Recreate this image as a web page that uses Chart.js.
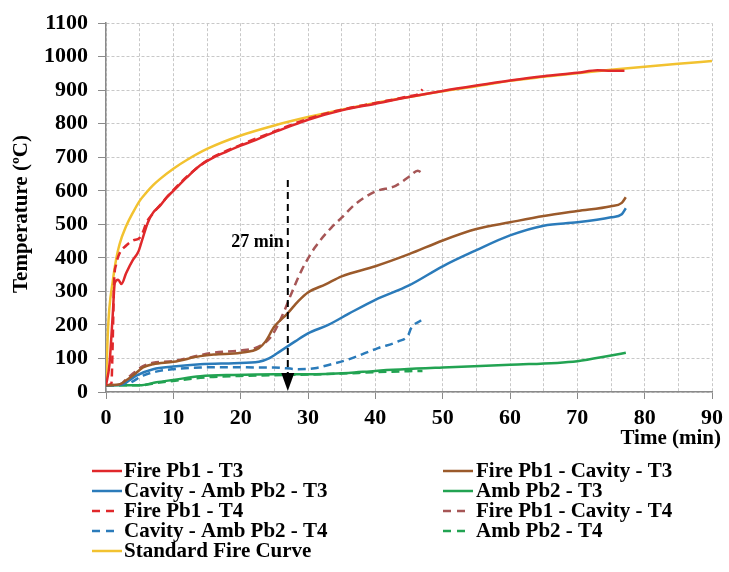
<!DOCTYPE html>
<html>
<head>
<meta charset="utf-8">
<script src="https://cdn.jsdelivr.net/npm/chart.js@4"></script>
<style>
  html, body { margin: 0; padding: 0; background: #fff; }
  canvas { display: block; }
</style>
</head>
<body>
<canvas id="c" width="729" height="572"></canvas>
<script>
// ---- Data (time in min, temperature in °C) ----
const fireT3_t = [0, 0.5, 1, 1.3, 1.8, 2.3, 3, 4, 4.8, 5.5, 6.2, 7, 8, 9, 10, 12, 14, 16, 18, 20, 22, 25, 27, 30, 35, 40, 45, 50, 55, 60, 65, 70, 73, 75, 77];
const fireT3_v = [20, 80, 230, 325, 335, 322, 355, 394, 418, 462, 505, 535, 555, 580, 600, 640, 676, 700, 718, 735, 750, 775, 790, 812, 840, 860, 880, 898, 914, 929, 942, 952, 960, 958, 958];

const cavT3_t = [0, 2.2, 3, 4, 5.5, 7, 10, 14, 16, 20, 22.7, 23.7, 25, 26.9, 28.6, 30, 32.6, 35, 40, 45, 50, 55, 60, 65, 70, 75, 76.6, 77.2];
const cavT3_v = [20, 24, 35, 49, 73, 83, 90, 107, 112, 117, 131, 151, 195, 233, 272, 297, 321, 345, 375, 411, 452, 486, 506, 525, 540, 554, 564, 581];

const cavAmbT3_t = [0, 2.4, 3.5, 4.5, 7, 10, 14, 19, 22.7, 24.2, 25.9, 28.1, 30, 33, 36, 40, 45, 50, 55, 60, 65, 70, 75, 76.6, 77.2];
const cavAmbT3_v = [20, 22, 35, 49, 68, 76, 83, 86, 90, 100, 122, 151, 175, 200, 233, 275, 318, 375, 423, 467, 496, 506, 521, 530, 548];

const ambT3_t = [0, 5, 7.5, 10, 14, 19, 25, 30, 36, 40, 50, 60, 70, 75, 77.2];
const ambT3_v = [20, 20, 29, 36, 47, 51, 53, 53, 57, 63, 73, 81, 92, 109, 117];

const fireT4_t = [0, 0.8, 1.0, 1.2, 1.5, 2, 3, 4, 5, 5.5, 6, 7, 8, 10, 12, 15, 20, 25, 30, 35, 40, 45, 46.5, 47];
const fireT4_v = [20, 25, 150, 330, 380, 413, 437, 452, 460, 478, 505, 533, 557, 602, 642, 690, 737, 777, 815, 842, 862, 882, 890, 903];

const cavT4_t = [0, 2.2, 3, 4, 5.5, 7, 10, 14, 16, 20, 22, 23.5, 24.7, 26.2, 27.6, 29.1, 31.1, 33.5, 35, 37, 40, 43, 45, 46.3, 47];
const cavT4_v = [20, 24, 38, 55, 77, 87, 92, 110, 117, 124, 130, 145, 170, 229, 297, 365, 433, 491, 520, 560, 598, 615, 642, 660, 652];

const cavAmbT4_t = [0, 3, 4, 5.5, 8, 10, 14, 19, 22.7, 25, 28.6, 31, 33.5, 36, 40.4, 43.4, 44.9, 45.3, 46.8];
const cavAmbT4_v = [20, 22, 32, 49, 63, 68, 73, 74, 73, 73, 68, 71, 83, 97, 131, 151, 170, 190, 214];

const ambT4_t = [0, 5, 7.5, 10, 15, 20, 25, 30, 35, 40, 45, 47];
const ambT4_v = [20, 20, 27, 33, 44, 48, 50, 52, 55, 59, 62, 63];

const std_t = [0, 0.25, 0.5, 1, 1.5, 2, 3, 4, 5, 6, 7, 8, 10, 12, 15, 20, 25, 30, 35, 40, 45, 50, 55, 60, 65, 70, 75, 80, 85, 90];
const std_v = [20, 165, 250, 330, 395, 440, 495, 535, 570, 595, 617, 635, 666, 692, 725, 765, 795, 820, 842, 862, 880, 897, 912, 928, 940, 951, 961, 970, 979, 987];

const seriesLabels = [
  'Fire Pb1 - T3', 'Fire Pb1 - Cavity - T3',
  'Cavity - Amb Pb2 - T3', 'Amb Pb2 - T3',
  'Fire Pb1 - T4', 'Fire Pb1 - Cavity - T4',
  'Cavity - Amb Pb2 - T4', 'Amb Pb2 - T4',
  'Standard Fire Curve'
];
const xTicks = [0, 10, 20, 30, 40, 50, 60, 70, 80, 90];
const yTicks = [0, 100, 200, 300, 400, 500, 600, 700, 800, 900, 1000, 1100];
const markerTime = 27;
const markerTop = 632;
const markerLabel = '27 min';

// ---- Build datasets ----
const pts = (ts, vs) => ts.map((t, i) => ({ x: t, y: vs[i] }));
const COLORS = {
  red: '#e0282b', brown: '#9b5a2b', blue: '#2b7bba', green: '#22a352',
  brownDash: '#a65656', yellow: '#f2c230'
};
const DASH = [8, 5];
const ds = (label, data, color, dashed) => ({
  label, data, borderColor: color, backgroundColor: color,
  borderWidth: 2.5, borderDash: dashed ? DASH : [],
  pointRadius: 0, cubicInterpolationMode: 'monotone', fill: false
});

const datasets = [
  ds(seriesLabels[0], pts(fireT3_t, fireT3_v), COLORS.red, false),
  ds(seriesLabels[1], pts(cavT3_t, cavT3_v), COLORS.brown, false),
  ds(seriesLabels[2], pts(cavAmbT3_t, cavAmbT3_v), COLORS.blue, false),
  ds(seriesLabels[3], pts(ambT3_t, ambT3_v), COLORS.green, false),
  ds(seriesLabels[4], pts(fireT4_t, fireT4_v), COLORS.red, true),
  ds(seriesLabels[5], pts(cavT4_t, cavT4_v), COLORS.brownDash, true),
  ds(seriesLabels[6], pts(cavAmbT4_t, cavAmbT4_v), COLORS.blue, true),
  ds(seriesLabels[7], pts(ambT4_t, ambT4_v), COLORS.green, true),
  ds(seriesLabels[8], pts(std_t, std_v), COLORS.yellow, false)
];

const FONT = "'Liberation Serif', 'Times New Roman', serif";

const overlay = {
  id: 'overlay',
  afterDatasetsDraw(chart) {
    const ctx = chart.ctx;
    const xs = chart.scales.x, ys = chart.scales.y;
    // arrow marker
    const px = xs.getPixelForValue(markerTime);
    const yTop = ys.getPixelForValue(markerTop);
    const yBot = ys.getPixelForValue(0);
    ctx.save();
    ctx.strokeStyle = '#000';
    ctx.lineWidth = 2;
    ctx.setLineDash([7, 5]);
    ctx.beginPath();
    ctx.moveTo(px, yTop);
    ctx.lineTo(px, yBot - 16);
    ctx.stroke();
    ctx.setLineDash([]);
    ctx.fillStyle = '#000';
    ctx.beginPath();
    ctx.moveTo(px - 6.5, yBot - 19);
    ctx.lineTo(px + 6.5, yBot - 19);
    ctx.lineTo(px, yBot - 1);
    ctx.closePath();
    ctx.fill();
    ctx.font = 'bold 18px ' + FONT;
    ctx.textAlign = 'right';
    ctx.textBaseline = 'middle';
    ctx.fillText(markerLabel, px - 4, ys.getPixelForValue(445));
    ctx.restore();
  },
  afterDraw(chart) {
    const ctx = chart.ctx;
    ctx.save();
    // y-axis title
    ctx.fillStyle = '#000';
    ctx.font = 'bold 21px ' + FONT;
    ctx.textAlign = 'center';
    ctx.textBaseline = 'middle';
    ctx.translate(22, 214);
    ctx.rotate(-Math.PI / 2);
    ctx.fillText('Temperature (ºC)', 0, 0);
    ctx.restore();
    ctx.save();
    ctx.fillStyle = '#000';
    ctx.font = 'bold 21px ' + FONT;
    ctx.textAlign = 'right';
    ctx.textBaseline = 'middle';
    ctx.fillText('Time (min)', 721, 439);
    // legend
    ctx.font = 'bold 21px ' + FONT;
    ctx.textAlign = 'left';
    chart.data.datasets.forEach((d, i) => {
      const col = i % 2, row = Math.floor(i / 2);
      const lx = col === 0 ? 92 : 443;
      const tx = col === 0 ? 124 : 476;
      const y = 471 + row * 20;
      ctx.strokeStyle = d.borderColor;
      ctx.lineWidth = 2.5;
      ctx.setLineDash(d.borderDash && d.borderDash.length ? [8, 6] : []);
      ctx.beginPath();
      ctx.moveTo(lx, y);
      ctx.lineTo(d.borderDash && d.borderDash.length ? lx + 22 : lx + 30, y);
      ctx.stroke();
      ctx.setLineDash([]);
      ctx.fillStyle = '#000';
      ctx.fillText(d.label, tx, y + 1);
    });
    ctx.restore();
  }
};

new Chart(document.getElementById('c'), {
  type: 'line',
  data: { datasets },
  options: {
    responsive: false,
    animation: false,
    devicePixelRatio: 1,
    layout: { padding: { left: 0, right: 13, top: 15, bottom: 0 } },
    plugins: { legend: { display: false }, tooltip: { enabled: false } },
    scales: {
      x: {
        type: 'linear', min: 0, max: 90,
        afterFit(s) { s.height = 180; },
        afterBuildTicks(s) {
          const out = [];
          for (let v = 0; v <= 90; v += 5) out.push({ value: v });
          s.ticks = out;
        },
        ticks: {
          autoSkip: false, maxRotation: 0, padding: 6, color: '#000',
          font: { family: FONT, size: 22, weight: 'bold' },
          callback: (v) => xTicks.includes(v) ? String(v) : ''
        },
        grid: {
          color: '#c8c8c8', lineWidth: 1, tickLength: 7,
          tickColor: (c) => (c.tick && xTicks.includes(c.tick.value)) ? '#8a8a8a' : 'rgba(0,0,0,0)'
        },
        border: { color: '#8a8a8a', width: 1.5, dash: [3, 2] }
      },
      y: {
        type: 'linear', min: 0, max: 1100,
        afterFit(s) { s.width = 106; },
        afterBuildTicks(s) { s.ticks = yTicks.map(v => ({ value: v })); },
        ticks: {
          padding: 10, color: '#000',
          font: { family: FONT, size: 22, weight: 'bold' },
          callback: (v) => String(v)
        },
        grid: { color: '#c8c8c8', lineWidth: 1, tickLength: 8, tickColor: '#8a8a8a' },
        border: { color: '#8a8a8a', width: 1.5, dash: [3, 2] }
      }
    }
  },
  plugins: [overlay]
});
</script>
</body>
</html>
